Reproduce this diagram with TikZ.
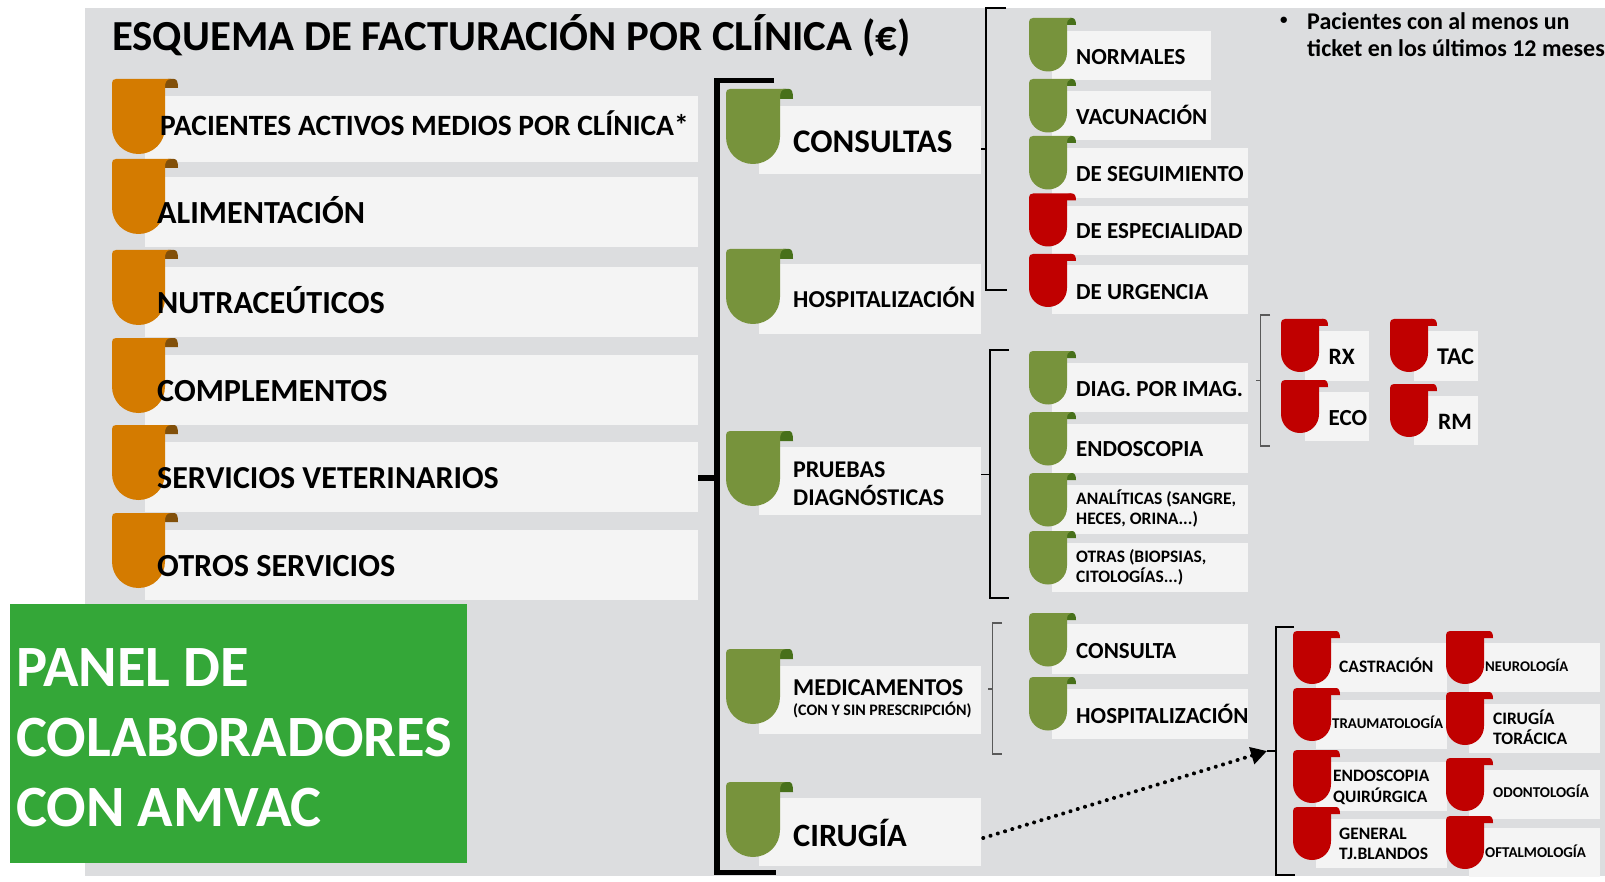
\documentclass[tikz,border=0pt]{standalone}
\usepackage{fontspec}
\setmainfont{Carlito}
\usetikzlibrary{arrows.meta}
\definecolor{bgray}{HTML}{DCDDDF}
\definecolor{cardc}{HTML}{F4F4F4}
\definecolor{orangeb}{HTML}{D47B00}
\definecolor{orangef}{HTML}{82500A}
\definecolor{greenb}{HTML}{77933C}
\definecolor{greenf}{HTML}{47701A}
\definecolor{redb}{HTML}{C00000}
\definecolor{panelc}{HTML}{34A738}
\tikzset{
  cardbox/.style={fill=cardc,draw=none,inner sep=0pt},
  lbltext/.style={anchor=west,inner sep=0pt,align=left,text=black},
  bracketbig/.style={draw=black,line width=5.5pt},
  bracketmid/.style={draw=black,line width=2pt},
  bracketthin/.style={draw=black!65,line width=1.3pt},
}
% card: name x1 y1 x2 y2
\newcommand{\crd}[5]{\node[cardbox,minimum width={(#4-#2)*1pt},minimum height={(#5-#3)*1pt}] (#1) at ({(#2+#4)/2},{(#3+#5)/2}) {};}
% tab: body flap x y w h fw fh
\newcommand{\tabsh}[8]{%
  \fill[#2] ({#3+#5-3},{#4+#8}) -- ({#3+#5-3},{#4+4}) .. controls ({#3+#5-3},{#4+1}) and ({#3+#5},{#4}) .. ({#3+#5+3},{#4}) -- ({#3+#5+#7-4},{#4}) .. controls ({#3+#5+#7-1},{#4}) and ({#3+#5+#7},{#4+3}) .. ({#3+#5+#7},{#4+#8}) -- cycle;
  \fill[#1] ({#3},{#4+4}) .. controls ({#3},{#4+1.5}) and ({#3+1.5},{#4}) .. ({#3+4},{#4}) -- ({#3+#5+#7*0.45},{#4}) .. controls ({#3+#5+1},{#4+0.5}) and ({#3+#5},{#4+3}) .. ({#3+#5},{#4+#8}) -- ({#3+#5},{#4+#6-#5/2}) .. controls ({#3+#5},{#4+#6-#5*0.22}) and ({#3+#5*0.78},{#4+#6}) .. ({#3+#5/2},{#4+#6}) .. controls ({#3+#5*0.22},{#4+#6}) and ({#3},{#4+#6-#5*0.22}) .. ({#3},{#4+#6-#5/2}) -- cycle;}
\newcommand{\otab}[2]{\tabsh{orangeb}{orangef}{#1}{#2}{53}{75}{13}{9}}
\newcommand{\gtab}[2]{\tabsh{greenb}{greenf}{#1}{#2}{54}{75}{13}{10}}
\newcommand{\sgtab}[2]{\tabsh{greenb}{greenf}{#1}{#2}{38}{53.5}{9}{7}}
\newcommand{\srtab}[2]{\tabsh{redb}{redb}{#1}{#2}{38}{53}{9}{7}}
% label: name x y size text
\newcommand{\lbl}[5]{\node[lbltext,font={\fontsize{#4}{#4}\selectfont\bfseries}] (#1) at (#2,#3) {#5};}
\begin{document}
\begin{tikzpicture}[x=1pt,y=-1pt]
\useasboundingbox (0,0) rectangle (1605,882);
\fill[bgray] (85,8) rectangle (1605,876);
% title
\node[lbltext,font={\fontsize{42.8}{46}\selectfont\bfseries}] (title) at (112,36) {ESQUEMA DE FACTURACIÓN POR CLÍNICA (€)};
% note
\node[lbltext,font={\fontsize{15}{18}\selectfont\bfseries}] (notedot) at (1280,20.5) {•};
\node[lbltext,font={\fontsize{24}{26.5}\selectfont\bfseries}] (note) at (1307,34.5) {Pacientes con al menos un\\ticket en los últimos 12 meses};
% left column
\crd{pa}{145}{96}{698}{162}\otab{112}{79}\lbl{pat}{160}{123}{29.5}{PACIENTES ACTIVOS MEDIOS POR CLÍNICA*}
\crd{al}{145}{177}{698}{247}\otab{112}{159}\lbl{alt}{157}{210}{32.2}{ALIMENTACIÓN}
\crd{nu}{145}{267}{698}{337}\otab{112}{250}\lbl{nut}{157}{300}{32.2}{NUTRACEÚTICOS}
\crd{co}{145}{355}{698}{425}\otab{112}{338}\lbl{cot}{157}{391}{32.2}{COMPLEMENTOS}
\crd{se}{145}{442}{698}{512}\otab{112}{425}\lbl{set}{157}{478}{32}{SERVICIOS VETERINARIOS}
\crd{ot}{145}{530}{698}{600}\otab{112}{513}\lbl{ott}{157}{566}{32.2}{OTROS SERVICIOS}
% panel
\node[anchor=north west,fill=panelc,inner sep=0pt,minimum width=457pt,minimum height=259pt] (panel) at (10,604) {};
\node[lbltext,text=white,font={\fontsize{58.5}{70}\selectfont\bfseries}] (panelt) at (16,737.5) {PANEL DE\\COLABORADORES\\CON AMVAC};
% main categories
\crd{mc}{759}{106}{981}{174}\gtab{726}{89}\lbl{mct}{793}{142}{33}{CONSULTAS}
\crd{mh}{759}{264}{981}{334}\gtab{726}{249}\lbl{mht}{793}{297}{24.3}{HOSPITALIZACIÓN}
\crd{mp}{759}{447}{981}{515}\gtab{726}{431}\node[lbltext,font={\fontsize{24}{27.5}\selectfont\bfseries}] (mpt) at (793,483.5) {PRUEBAS\\DIAGNÓSTICAS};
\crd{mm}{759}{666}{981}{734}\gtab{726}{649}\lbl{mmt}{793}{688}{24.2}{MEDICAMENTOS}\lbl{mms}{793}{710}{16}{(CON Y SIN PRESCRIPCIÓN)}
\crd{mi}{759}{798}{981}{866}\gtab{726}{782}\lbl{mit}{793}{833}{32.5}{CIRUGÍA}
% consultas items
\crd{c1}{1052}{31}{1211}{80}\sgtab{1029}{18}\lbl{c1t}{1076}{57}{23}{NORMALES}
\crd{c2}{1052}{91}{1211}{140}\sgtab{1029}{79}\lbl{c2t}{1076}{115}{23}{VACUNACIÓN}
\crd{c3}{1052}{148}{1248}{198}\sgtab{1029}{136}\lbl{c3t}{1076}{174}{23}{DE SEGUIMIENTO}
\crd{c4}{1052}{206}{1248}{255}\srtab{1029}{193.5}\lbl{c4t}{1076}{231}{23}{DE ESPECIALIDAD}
\crd{c5}{1052}{265}{1248}{314}\srtab{1029}{254}\lbl{c5t}{1076}{292}{23}{DE URGENCIA}
% pruebas items
\crd{p1}{1052}{363}{1248}{412}\sgtab{1029}{351}\lbl{p1t}{1076}{389}{23}{DIAG. POR IMAG.}
\crd{p2}{1052}{424}{1248}{473}\sgtab{1029}{412}\lbl{p2t}{1076}{449}{23}{ENDOSCOPIA}
\crd{p3}{1052}{485}{1248}{534}\sgtab{1029}{473}\node[lbltext,font={\fontsize{17.5}{20}\selectfont\bfseries}] (p3t) at (1076,508) {ANALÍTICAS (SANGRE,\\HECES, ORINA...)};
\crd{p4}{1052}{543}{1248}{592}\sgtab{1029}{531}\node[lbltext,font={\fontsize{17.5}{20}\selectfont\bfseries}] (p4t) at (1076,567) {OTRAS (BIOPSIAS,\\CITOLOGÍAS...)};
% imaging
\crd{i1}{1305}{331}{1369}{381}\srtab{1281}{319}\lbl{i1t}{1328.5}{357}{23.5}{RX}
\crd{i2}{1414}{331}{1478}{381}\srtab{1390}{319}\lbl{i2t}{1437}{357}{24}{TAC}
\crd{i3}{1305}{392}{1369}{441}\srtab{1281}{380}\lbl{i3t}{1328.5}{418.5}{23}{ECO}
\crd{i4}{1414}{396}{1478}{445}\srtab{1390}{384}\lbl{i4t}{1438}{422}{23.5}{RM}
% medicamentos
\crd{d1}{1052}{624}{1248}{674}\sgtab{1029}{613}\lbl{d1t}{1076}{651}{23}{CONSULTA}
\crd{d2}{1052}{689}{1248}{739}\sgtab{1029}{677}\lbl{d2t}{1076}{714}{23}{HOSPITALIZACIÓN}
% surgery left
\crd{s1}{1316}{643}{1447}{692}\srtab{1293}{631}\lbl{s1t}{1339}{665}{17.5}{CASTRACIÓN}
\crd{s2}{1316}{700}{1447}{749}\srtab{1293}{688}\lbl{s2t}{1332}{722}{14.9}{TRAUMATOLOGÍA}
\crd{s3}{1316}{762}{1447}{811}\srtab{1293}{750}\node[lbltext,font={\fontsize{17.4}{21}\selectfont\bfseries}] (s3t) at (1333,787.5) {ENDOSCOPIA\\QUIRÚRGICA};
\crd{s4}{1316}{819}{1447}{868}\srtab{1293}{807}\node[lbltext,font={\fontsize{17.5}{20.5}\selectfont\bfseries}] (s4t) at (1339,844) {GENERAL\\TJ.BLANDOS};
% surgery right
\crd{r1}{1469}{643}{1600}{692}\srtab{1446}{631}\lbl{r1t}{1485}{665}{14.8}{NEUROLOGÍA}
\crd{r2}{1469}{704}{1600}{753}\srtab{1446}{692}\node[lbltext,font={\fontsize{17.5}{20.5}\selectfont\bfseries}] (r2t) at (1493,727) {CIRUGÍA\\TORÁCICA};
\crd{r3}{1469}{770}{1600}{819}\srtab{1446}{758}\lbl{r3t}{1493}{791}{15}{ODONTOLOGÍA}
\crd{r4}{1469}{828}{1600}{877}\srtab{1446}{816}\lbl{r4t}{1485}{851}{15}{OFTALMOLOGÍA}
% brackets
\coordinate (bb) at (717,478);
\draw[bracketbig] (774,80.7) -| (717,872.5) -- (776,872.5);
\draw[bracketbig] (bb-|se.east) -- (bb);
\coordinate (b1) at (986,149);
\draw[bracketmid] (1006,8) -| (986,290) -- (1007,290);
\draw[bracketthin,draw=black] (b1-|mc.east) -- (b1);
\coordinate (b2) at (990.4,474.5);
\draw[bracketmid] (1009,349.5) -| (990.4,597.5) -- (1009,597.5);
\draw[bracketthin,draw=black] (b2-|mp.east) -- (b2);
\coordinate (b3) at (1260.5,380.5);
\coordinate (b3s) at (1256,380.5);
\draw[bracketthin] (1270,315) -| (1260.5,446) -- (1270,446);
\draw[bracketthin] (b3s) -- (b3);
\coordinate (b5) at (992.5,689);
\coordinate (b5s) at (988,689);
\draw[bracketthin] (1002,623) -| (992.5,754) -- (1002,754);
\draw[bracketthin] (b5s) -- (b5);
\coordinate (b4) at (1276,751);
\coordinate (b4s) at (1267,751);
\draw[bracketmid] (1294,627) -| (1276,875) -- (1295,875);
\draw[bracketmid] (b4s) -- (b4);
\draw[line width=4pt,line cap=round,dash pattern=on 0.1pt off 7.5pt,-{Triangle[length=16pt,width=17pt]}] ([yshift=-6pt,xshift=2pt]mi.east) -- (b4s);
\end{tikzpicture}
\end{document}
